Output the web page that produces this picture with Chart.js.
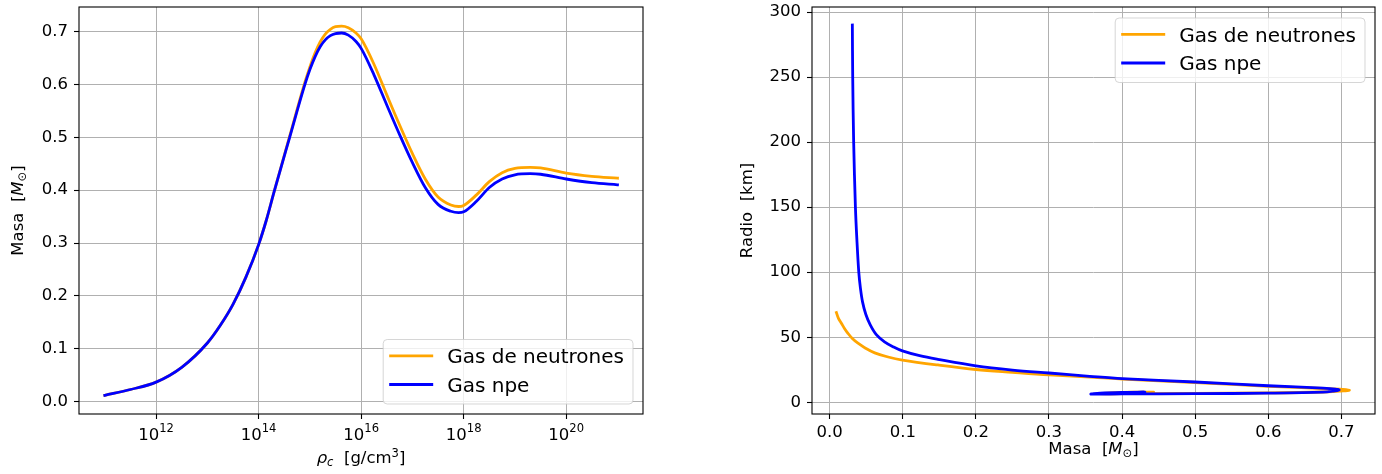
<!DOCTYPE html>
<html><head><meta charset="utf-8">
<script src="https://cdn.jsdelivr.net/npm/chart.js@4.4.1/dist/chart.umd.min.js"></script>
<style>
html,body{margin:0;padding:0;background:#fff;}
#wrap{position:relative;width:1382px;height:474px;overflow:hidden;background:#fff;}
.box{position:absolute;top:0;height:474px;}
</style></head><body>
<div id="wrap">
<div class="box" style="left:0;width:690px"><canvas id="c1"></canvas></div>
<div class="box" style="left:690px;width:692px"><canvas id="c2"></canvas></div>
</div>
<script>
// ---------- DATA ----------
const seriesLabels = ['Gas de neutrones', 'Gas npe'];
const seriesColors = ['orange', 'blue'];

// Left chart: central density exponent (log10 rho_c) vs mass
const rhoExp = [11, 11.5, 12, 12.5, 13, 13.25, 13.5, 13.75, 14, 14.15, 14.3, 14.6, 14.9, 15.0, 15.1, 15.2, 15.3, 15.4, 15.5, 15.62, 15.75, 15.9, 16, 16.25, 16.5, 16.75, 17, 17.25, 17.5, 17.75, 17.9, 18, 18.25, 18.5, 18.75, 19, 19.3, 19.5, 20, 20.5, 21];
const masaNeutronesRho = [0.012, 0.023, 0.037, 0.065, 0.111, 0.144, 0.184, 0.235, 0.297, 0.343, 0.396, 0.5, 0.603, 0.633, 0.659, 0.68, 0.695, 0.704, 0.709, 0.71, 0.707, 0.697, 0.686, 0.638, 0.58, 0.523, 0.469, 0.421, 0.387, 0.372, 0.369, 0.371, 0.391, 0.416, 0.433, 0.441, 0.443, 0.442, 0.432, 0.426, 0.4226];
const masaNpeRho = [0.012, 0.023, 0.037, 0.065, 0.111, 0.144, 0.184, 0.235, 0.297, 0.343, 0.396, 0.498, 0.599, 0.628, 0.652, 0.671, 0.684, 0.692, 0.696, 0.697, 0.693, 0.681, 0.668, 0.618, 0.561, 0.505, 0.452, 0.405, 0.373, 0.36, 0.3575, 0.359, 0.379, 0.405, 0.421, 0.429, 0.431, 0.43, 0.421, 0.414, 0.41];
const xTickExpRho = [12, 14, 16, 18, 20];
const yTicksMasa = [0, 0.1, 0.2, 0.3, 0.4, 0.5, 0.6, 0.7];

// Right chart: mass vs radius
const masaNeutrones = [0.0092, 0.012, 0.016, 0.02, 0.025, 0.031, 0.0387, 0.049, 0.0616, 0.08, 0.0995, 0.148, 0.2, 0.25, 0.3, 0.3625, 0.4, 0.5, 0.6, 0.675, 0.702, 0.711, 0.703, 0.675, 0.6, 0.5, 0.4, 0.369, 0.385, 0.416, 0.443, 0.432, 0.4226];
const radioNeutrones = [68.9, 64.5, 60.8, 57, 53, 49, 45.4, 41.6, 38.0, 34.8, 32.5, 28.7, 25.2, 23, 21, 19.2, 17.8, 15.2, 12.3, 10.6, 9.9, 9.3, 8.7, 7.9, 7.2, 6.8, 6.6, 6.6, 7.2, 7.7, 7.8, 7.7, 7.6];
const masaNpe = [0.031, 0.0315, 0.0328, 0.0352, 0.0372, 0.0398, 0.042, 0.045, 0.0495, 0.0555, 0.0638, 0.075, 0.0875, 0.0995, 0.123, 0.148, 0.2, 0.25, 0.3, 0.3557, 0.4, 0.5, 0.6, 0.675, 0.692, 0.697, 0.691, 0.675, 0.6, 0.5, 0.4, 0.3575, 0.37, 0.405, 0.431, 0.421, 0.41];
const radioNpe = [290, 250, 200, 150, 125, 100, 88, 77, 67.5, 59.5, 52, 46.5, 42.5, 39.5, 35.8, 33, 28.0, 24.8, 22.5, 20, 18.2, 15.6, 12.7, 10.9, 10.2, 9.5, 8.8, 7.8, 7.0, 6.6, 6.4, 6.3, 7.0, 7.6, 7.8, 7.6, 7.5];
const xTicksMasa = [0, 0.1, 0.2, 0.3, 0.4, 0.5, 0.6, 0.7];
const yTicksRadio = [0, 50, 100, 150, 200, 250, 300];

// ---------- HELPERS ----------
const FONT = "'DejaVu Sans', sans-serif";
const FS = 16.5;          // tick / axis-title font size
const FSS = FS * 0.7;     // sub/superscript size
function drawRich(ctx, segs, x, y, rotate) {
  ctx.save();
  ctx.translate(x, y);
  if (rotate) ctx.rotate(-Math.PI / 2);
  ctx.textBaseline = 'alphabetic';
  ctx.textAlign = 'left';
  ctx.fillStyle = '#000';
  let total = 0;
  const ws = segs.map(g => {
    ctx.font = (g.it ? 'italic ' : '') + g.s + 'px ' + FONT;
    const w = ctx.measureText(g.t).width;
    total += w;
    return w;
  });
  let cx = -total / 2;
  segs.forEach((g, i) => {
    ctx.font = (g.it ? 'italic ' : '') + g.s + 'px ' + FONT;
    ctx.fillText(g.t, cx, g.dy || 0);
    cx += ws[i];
  });
  ctx.restore();
}
function drawLegend(chart, where) {
  const ctx = chart.ctx, a = chart.chartArea;
  ctx.save();
  ctx.font = '20px ' + FONT;
  const ds = chart.data.datasets;
  const tw = Math.max(...ds.map(d => ctx.measureText(d.label).width));
  const w = tw + 64 + 9, h = 64.5;
  const x0 = a.right - 10 - w;
  const y0 = where === 'lr' ? a.bottom - 10 - h : a.top + 11;
  ctx.beginPath();
  ctx.roundRect(x0, y0, w, h, 4);
  ctx.fillStyle = 'rgba(255,255,255,0.8)';
  ctx.fill();
  ctx.strokeStyle = 'rgba(204,204,204,0.8)';
  ctx.lineWidth = 1;
  ctx.stroke();
  ds.forEach((d, i) => {
    const ly = y0 + 16.4 + i * 28.6;
    ctx.beginPath();
    ctx.moveTo(x0 + 6, ly);
    ctx.lineTo(x0 + 50, ly);
    ctx.strokeStyle = d.borderColor;
    ctx.lineWidth = 2.8;
    ctx.stroke();
    ctx.fillStyle = '#000';
    ctx.textBaseline = 'alphabetic';
    ctx.fillText(d.label, x0 + 64, ly + 7.3);
  });
  ctx.restore();
}
function frame(chart) {
  const ctx = chart.ctx, a = chart.chartArea;
  ctx.save();
  ctx.strokeStyle = '#000';
  ctx.lineWidth = 1.1;
  ctx.strokeRect(a.left, a.top, a.right - a.left, a.bottom - a.top);
  ctx.restore();
}
const gridOpts = { color: '#b0b0b0', lineWidth: 1, tickLength: 5, tickColor: '#000', tickWidth: 1.1 };
const tickFont = { family: FONT, size: FS };
function fixX(h) { return s => { s.height = h; s.paddingLeft = 0; s.paddingRight = 0; }; }
function fixY(w) { return s => { s.width = w; s.paddingTop = 0; s.paddingBottom = 0; }; }

Chart.defaults.font.family = FONT;

// ---------- LEFT CHART ----------
const leftPlugin = {
  id: 'leftDeco',
  afterDraw(chart) {
    const ctx = chart.ctx, a = chart.chartArea, s = chart.scales.x;
    frame(chart);
    s.ticks.forEach(t => {
      const px = s.getPixelForValue(t.value);
      const e = String(Math.round(Math.log10(t.value)));
      drawRich(ctx, [{ t: '10', s: FS }, { t: e, s: FSS, dy: -8 }], px, 440, false);
    });
    drawRich(ctx, [{ t: 'ρ', s: FS, it: true }, { t: 'c', s: FSS, it: true, dy: 3 }, { t: '  [g/cm', s: FS }, { t: '3', s: FSS, dy: -6.5 }, { t: ']', s: FS }], (a.left + a.right) / 2, 463, false);
    drawRich(ctx, [{ t: 'Masa  [', s: FS }, { t: 'M', s: FS, it: true }, { t: '⊙', s: FSS, dy: 3 }, { t: ']', s: FS }], 22.7, (a.top + a.bottom) / 2, true);
    drawLegend(chart, 'lr');
  }
};
new Chart(document.getElementById('c1'), {
  type: 'line',
  data: {
    datasets: [
      { label: seriesLabels[0], data: rhoExp.map((e, i) => ({ x: Math.pow(10, e), y: masaNeutronesRho[i] })), borderColor: seriesColors[0], order: 2 },
      { label: seriesLabels[1], data: rhoExp.map((e, i) => ({ x: Math.pow(10, e), y: masaNpeRho[i] })), borderColor: seriesColors[1], order: 1 }
    ]
  },
  options: {
    responsive: true, maintainAspectRatio: false, animation: false, devicePixelRatio: 1,
    layout: { padding: { left: 0, top: 7, right: 47, bottom: 0 } },
    elements: { line: { borderWidth: 2.8, cubicInterpolationMode: 'monotone', fill: false, borderCapStyle: 'square', borderJoinStyle: 'round' }, point: { radius: 0, hoverRadius: 0 } },
    plugins: { legend: { display: false }, tooltip: { enabled: false } },
    events: [],
    scales: {
      x: {
        type: 'logarithmic', bounds: 'data', min: Math.pow(10, 10.496), max: Math.pow(10, 21.498),
        afterBuildTicks: s => { s.ticks = xTickExpRho.map(e => ({ value: Math.pow(10, e) })); },
        ticks: { display: false },
        grid: gridOpts, border: { display: false },
        afterFit: fixX(60)
      },
      y: {
        type: 'linear', min: -0.0233, max: 0.7462,
        afterBuildTicks: s => { s.ticks = yTicksMasa.map(v => ({ value: v })); },
        ticks: { font: tickFont, color: '#000', padding: 6, callback: v => Number(v).toFixed(1) },
        grid: gridOpts, border: { display: false },
        afterFit: fixY(79)
      }
    }
  },
  plugins: [leftPlugin]
});

// ---------- RIGHT CHART ----------
const rightPlugin = {
  id: 'rightDeco',
  afterDraw(chart) {
    const ctx = chart.ctx, a = chart.chartArea;
    frame(chart);
    drawRich(ctx, [{ t: 'Masa  [', s: FS }, { t: 'M', s: FS, it: true }, { t: '⊙', s: FSS, dy: 3 }, { t: ']', s: FS }], (a.left + a.right) / 2, 454, false);
    drawRich(ctx, [{ t: 'Radio  [km]', s: FS }], 61.7, (a.top + a.bottom) / 2, true);
    drawLegend(chart, 'ur');
  }
};
new Chart(document.getElementById('c2'), {
  type: 'line',
  data: {
    datasets: [
      { label: seriesLabels[0], data: masaNeutrones.map((m, i) => ({ x: m, y: radioNeutrones[i] })), borderColor: seriesColors[0], order: 2 },
      { label: seriesLabels[1], data: masaNpe.map((m, i) => ({ x: m, y: radioNpe[i] })), borderColor: seriesColors[1], order: 1 }
    ]
  },
  options: {
    responsive: true, maintainAspectRatio: false, animation: false, devicePixelRatio: 1,
    layout: { padding: { left: 0, top: 7, right: 7, bottom: 0 } },
    elements: { line: { borderWidth: 2.8, tension: 0.35, fill: false, borderCapStyle: 'square', borderJoinStyle: 'round' }, point: { radius: 0, hoverRadius: 0 } },
    plugins: { legend: { display: false }, tooltip: { enabled: false } },
    events: [],
    scales: {
      x: {
        type: 'linear', min: -0.0242, max: 0.746,
        afterBuildTicks: s => { s.ticks = xTicksMasa.map(v => ({ value: v })); },
        ticks: { font: tickFont, color: '#000', padding: 4, maxRotation: 0, callback: v => Number(v).toFixed(1) },
        grid: gridOpts, border: { display: false },
        afterFit: fixX(60)
      },
      y: {
        type: 'linear', min: -9.0, max: 303.85,
        afterBuildTicks: s => { s.ticks = yTicksRadio.map(v => ({ value: v })); },
        ticks: { font: tickFont, color: '#000', padding: 6, callback: v => String(Math.round(v)) },
        grid: gridOpts, border: { display: false },
        afterFit: fixY(122)
      }
    }
  },
  plugins: [rightPlugin]
});
</script>
</body></html>
